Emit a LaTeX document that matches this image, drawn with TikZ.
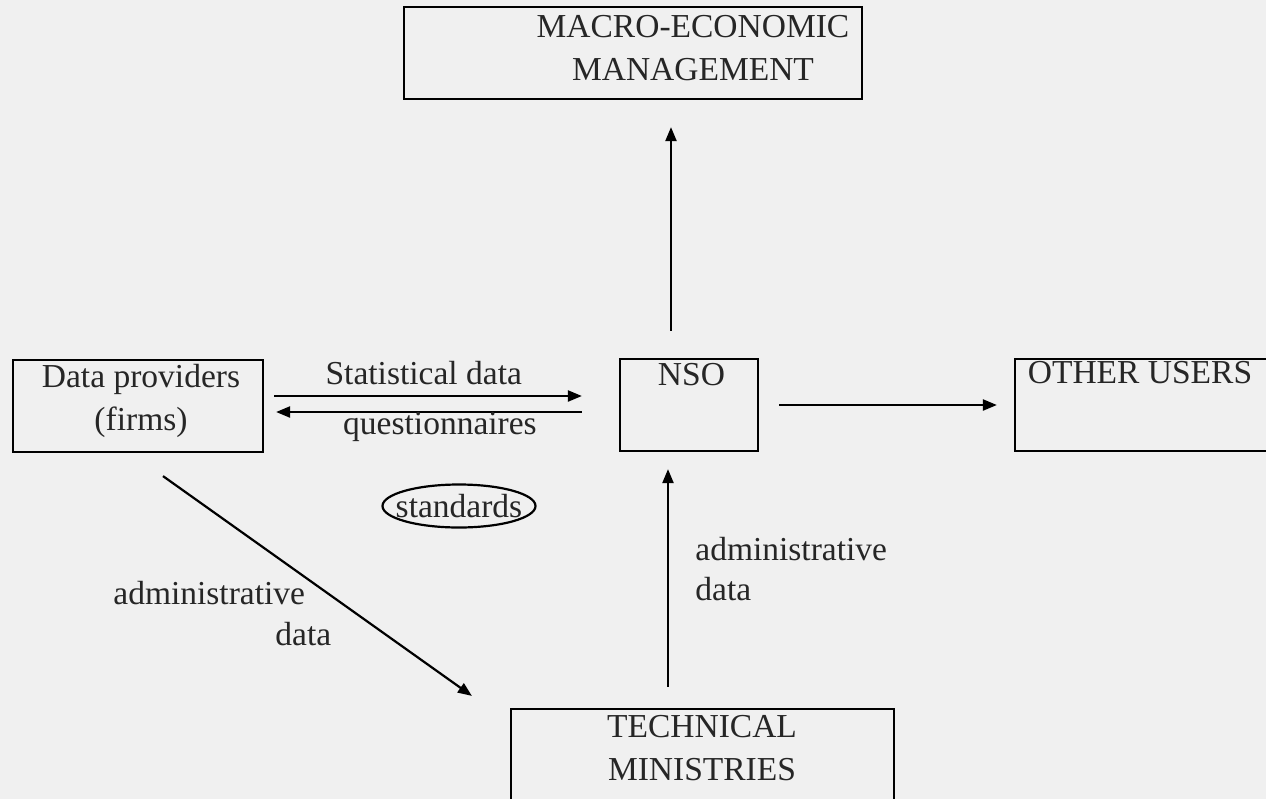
\documentclass[tikz,border=0pt]{standalone}
\usepackage{fontspec}
\setmainfont{Liberation Serif}
\usetikzlibrary{arrows.meta}
\tikzset{box/.style={rectangle, draw, line width=1.1pt, inner sep=0pt, minimum height=46pt}}
\tikzset{lbl/.style={inner sep=0pt, text=black!85, font=\fontsize{16.75}{21.5}\selectfont}}
\tikzset{arr/.style={line width=1.1pt, -{Triangle[length=7pt,width=5.5pt]}}}

\begin{document}
\begin{tikzpicture}[x=0.5pt,y=-0.5pt]
    \fill[black!6] (0,0) rectangle (1266,799);
    \useasboundingbox (0,0) rectangle (1266,799);
    \clip (0,0) rectangle (1266,799);
    % boxes
    \node[box, minimum width=229pt] (macro) at (633,53) {};
    \node[box, minimum width=69pt] (nso) at (689,405) {};
    \node[box, minimum width=137.5pt] (users) at (1152.5,405) {};
    \node[box, minimum width=125pt] (prov) at (138,406) {};
    \node[box, minimum width=191.5pt, minimum height=60.5pt] (tech) at (702.5,769.5) {};
    \node[lbl] (std) at (459,506) {standards};
    \draw[line width=1.1pt] (std.center) ellipse [x radius=38.25pt, y radius=10.75pt];

    % box texts
    \node[lbl, align=center] (macrotxt) at (693,48) {MACRO-ECONOMIC\\MANAGEMENT};
    \node[lbl, anchor=base] (nsotxt) at (691.5,385) {NSO};
    \node[lbl, anchor=base] (userstxt) at (1140,383) {OTHER USERS};
    \node[lbl, align=center] (provtxt) at (141,401) {Data providers\\(firms)};
    \node[lbl, align=center] (techtxt) at (702,748) {TECHNICAL\\MINISTRIES};

    % connectors
    \draw[arr, shorten <=5pt, shorten >=18.5pt] ([yshift=5pt]prov.east) -- ([yshift=5pt]prov.east -| nso.west)
      node[lbl, anchor=base, pos=0.45, yshift=6pt] (stat) {Statistical data};
    \draw[arr, shorten <=18.5pt, shorten >=6pt] ([yshift=-3pt]prov.east -| nso.west) -- ([yshift=-3pt]prov.east);
    \node[lbl, anchor=base] (quest) at (440,434) {questionnaires};
    \draw[arr, shorten <=13.5pt, shorten >=13.5pt] ([xshift=-9pt]nso.north) -- ([xshift=-9pt]nso.north |- macro.south);
    \draw[arr, shorten <=10pt, shorten >=8.5pt] (nso.east) -- (users.west);
    \draw[arr, shorten <=10.5pt, shorten >=8.5pt] ([xshift=-10.5pt]nso.south |- tech.north) -- ([xshift=-10.5pt]nso.south);
    \draw[arr] ([xshift=12.5pt,yshift=-11.5pt]prov.south) -- ([xshift=-19pt,yshift=6pt]tech.north west);

    % side labels
    \node[lbl, anchor=base west] (adm1) at (113,604) {administrative};
    \node[lbl, anchor=base west] (adm1b) at (275,645) {data};
    \node[lbl, anchor=base west] (adm2) at (695,560) {administrative};
    \node[lbl, anchor=base west] (adm2b) at (695,600) {data};
\end{tikzpicture}
\end{document}
